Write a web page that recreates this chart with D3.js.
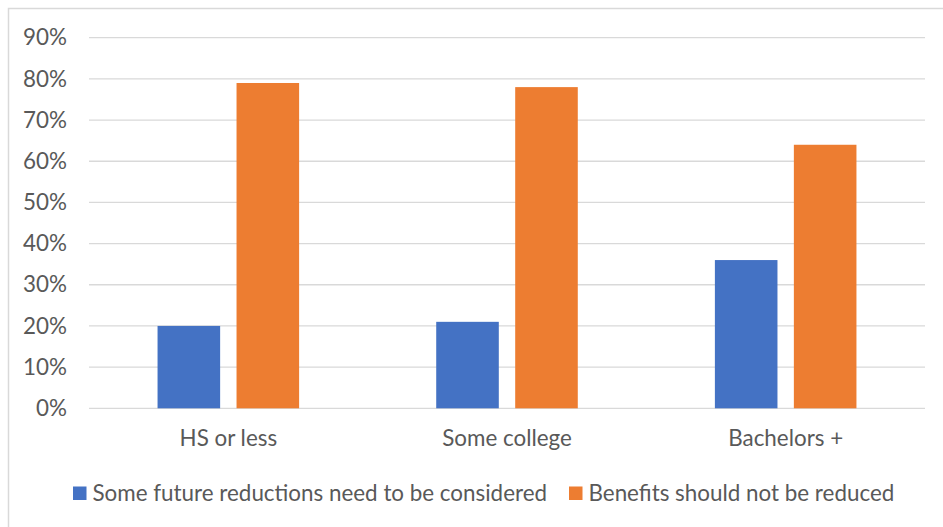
<!DOCTYPE html>
<html>
<head>
<meta charset="utf-8">
<script src="https://cdn.jsdelivr.net/npm/d3@7"></script>
<style>
  html, body { margin: 0; padding: 0; background: #fff; }
  svg { display: block; }
  text { font-family: Lato, "Open Sans", sans-serif; fill: #595959; }
</style>
</head>
<body>
<svg id="chart" width="943" height="527"></svg>
<script>
// Education groups and the share choosing each answer
const categories = ["HS or less", "Some college", "Bachelors +"];
const seriesNames = ["Some future reductions need to be considered", "Benefits should not be reduced"];
const reduceValues = [0.20, 0.21, 0.36];
const protectValues = [0.79, 0.78, 0.64];
const yTicks = [0, 0.1, 0.2, 0.3, 0.4, 0.5, 0.6, 0.7, 0.8, 0.9];
const colors = ["#4472C4", "#ED7D31"];

const seriesValues = [reduceValues, protectValues];
const rows = categories.map((c, i) => ({
  category: c,
  values: seriesNames.map((s, j) => ({ series: s, value: seriesValues[j][i] }))
}));

const svg = d3.select("#chart");
const FONT = 22.4;

// chart area frame
svg.append("rect")
  .attr("x", 8.5).attr("y", 8.5)
  .attr("width", 960).attr("height", 560)
  .attr("fill", "#fff")
  .attr("stroke", "#d9d9d9").attr("stroke-width", 1.5);

const plot = { left: 89, right: 925, top: 37.7, bottom: 408.3 };

const x0 = d3.scaleBand().domain(categories).range([plot.left, plot.right]).padding(0);
const bw = x0.bandwidth();
const groupW = bw * 0.508;
const x1 = d3.scaleBand().domain(seriesNames)
  .range([(bw - groupW) / 2, (bw + groupW) / 2])
  .paddingInner(0.2076).paddingOuter(0);
const y = d3.scaleLinear().domain([0, 0.9]).range([plot.bottom, plot.top]);

// gridlines
svg.append("g")
  .selectAll("line")
  .data(yTicks)
  .join("line")
  .attr("x1", plot.left).attr("x2", plot.right)
  .attr("y1", d => y(d)).attr("y2", d => y(d))
  .attr("stroke", "#d9d9d9").attr("stroke-width", 1.3);

// y axis labels
const yAxis = d3.axisLeft(y).tickValues(yTicks).tickFormat(d3.format(".0%")).tickSize(0).tickPadding(0);
const yg = svg.append("g").attr("transform", `translate(${plot.left - 22},0)`).call(yAxis);
yg.select(".domain").remove();
yg.selectAll("text")
  .attr("font-size", FONT)
  .attr("font-family", "Lato, 'Open Sans', sans-serif")
  .attr("fill", "#595959");

// bars
const groups = svg.append("g")
  .selectAll("g")
  .data(rows)
  .join("g")
  .attr("transform", d => `translate(${x0(d.category)},0)`);

groups.selectAll("rect")
  .data(d => d.values)
  .join("rect")
  .attr("x", d => x1(d.series))
  .attr("width", x1.bandwidth())
  .attr("y", d => y(d.value))
  .attr("height", d => y(0) - y(d.value))
  .attr("fill", (d, i) => colors[i]);

// category axis labels
const xAxis = d3.axisBottom(x0).tickSize(0).tickPadding(0);
const xg = svg.append("g").attr("transform", `translate(0,${plot.bottom + 21})`).call(xAxis);
xg.select(".domain").remove();
xg.selectAll("text")
  .attr("font-size", FONT)
  .attr("font-family", "Lato, 'Open Sans', sans-serif")
  .attr("fill", "#595959")
  .attr("dy", "0.75em");

// legend
const legendItems = [
  { name: seriesNames[0], color: colors[0], x: 73 },
  { name: seriesNames[1], color: colors[1], x: 569 }
];
const lg = svg.append("g");
legendItems.forEach(item => {
  lg.append("rect")
    .attr("x", item.x).attr("y", 486.5)
    .attr("width", 13.5).attr("height", 13.5)
    .attr("fill", item.color);
  lg.append("text")
    .attr("x", item.x + 19.5).attr("y", 500.5)
    .attr("font-size", FONT)
    .text(item.name);
});
</script>
</body>
</html>
